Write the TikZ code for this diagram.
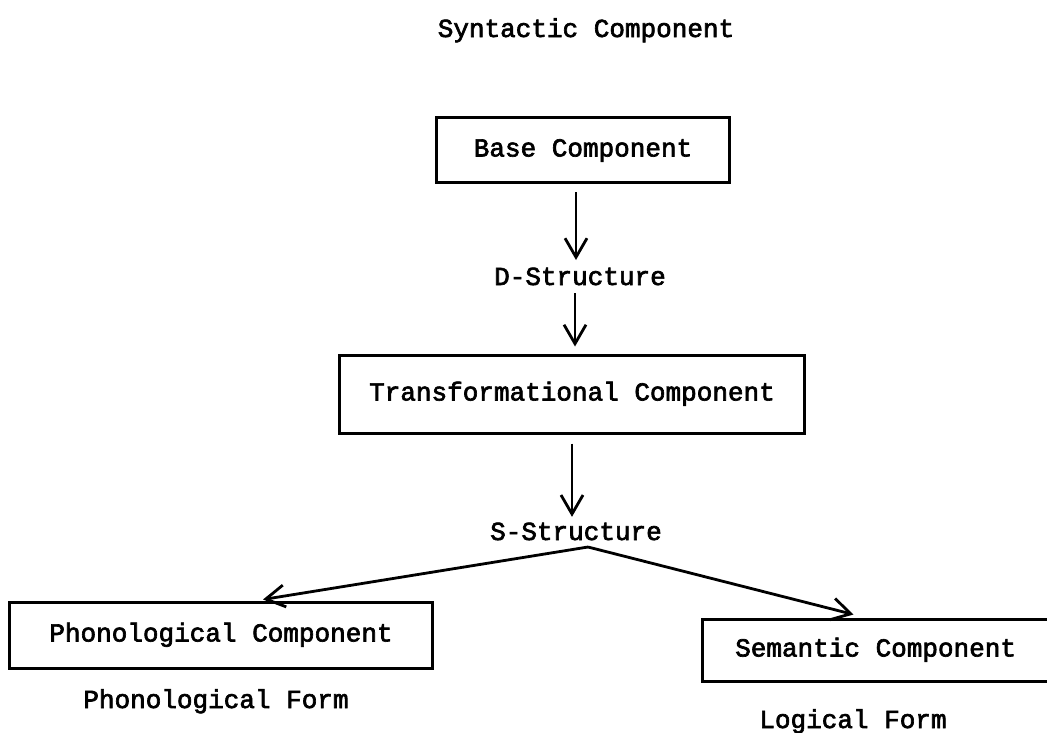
\documentclass[tikz,border=0pt]{standalone}
\usepackage{fontspec}
\newfontfamily\twfont{Liberation Mono}[FakeBold=2.5]
\usetikzlibrary{arrows.meta,calc,fit}
\begin{document}
\begin{tikzpicture}[x=1pt,y=-1pt,
  every node/.style={font=\twfont\fontsize{26}{30}\selectfont, text height=18pt, text depth=5pt},
  lbl/.style={inner sep=0pt},
  box/.style={draw, line width=3pt, inner sep=0pt},
  arr/.style={line width=2.8pt, -{Straight Barb[length=19pt,width=22pt,line width=2.8pt]}}
]
\useasboundingbox (0,0) rectangle (1047,732);
\node[lbl] (title) at (586,30.5) {Syntactic Component};
\node[box, minimum width=293pt, minimum height=65pt] (base) at (583,150) {Base Component};
\node[lbl] (dstr) at (580,278.5) {D-Structure};
\node[box, minimum width=465pt, minimum height=78pt] (trans) at (572,394) {Transformational Component};
\node[lbl] (sstr) at (576,533.5) {S-Structure};
\node[box, minimum width=423pt, minimum height=66pt] (phon) at (221,635) {Phonological Component};
\node[box, fit={(702,619) (1075,681)}] (sem) {};
\node[lbl, anchor=west] (semtext) at (735,650) {Semantic Component};
\node[lbl] (pf) at (216,701.5) {Phonological Form};
\node[lbl] (lf) at (853,721.5) {Logical Form};
\coordinate (split) at (588,547);
\coordinate (ptip) at ($(phon.north west)+(255,-1)$);
\coordinate (stip) at ($(sem.north west)+(153,-3)$);
\draw[arr] ([xshift=-7pt]base.south) ++(0,8) -- ++(0,68);
\draw[arr, shorten >=7pt] ([xshift=-5pt]dstr.south) ++(0,3) -- (trans.north -| 575,0);
\draw[arr] ([xshift=0pt]trans.south) ++(0,9) -- ([yshift=5pt]sstr.north -| 572,0);
\draw[arr] (split) -- (ptip);
\draw[arr] (split) -- (stip);
\end{tikzpicture}
\end{document}
